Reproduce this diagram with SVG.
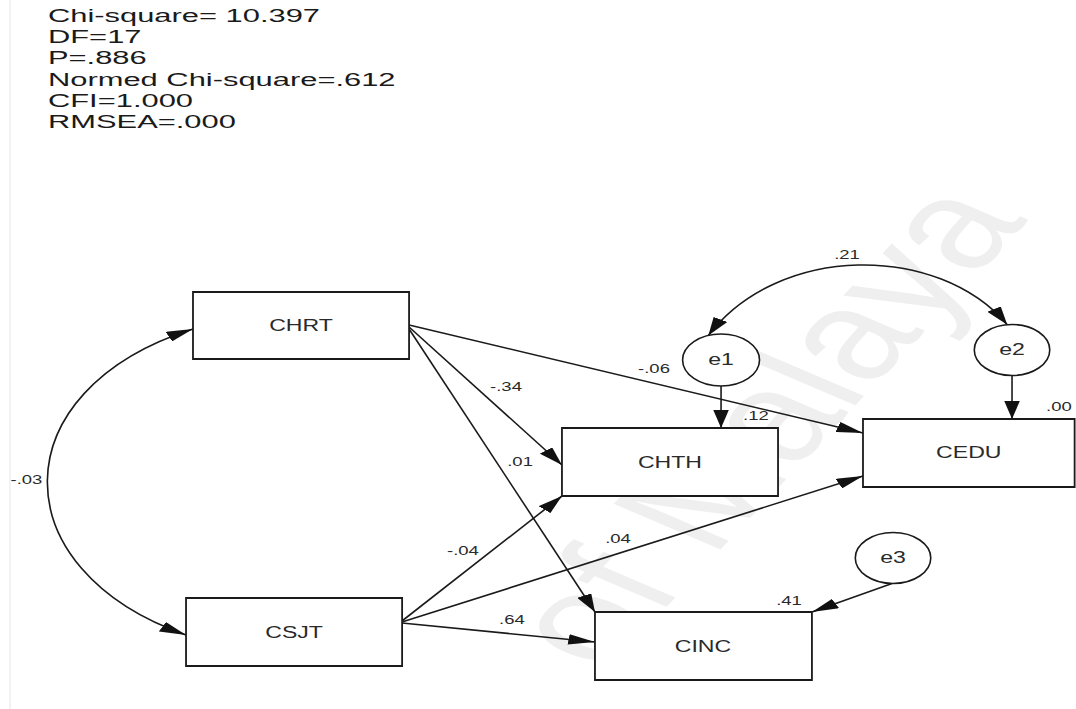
<svg xmlns="http://www.w3.org/2000/svg" width="1076" height="709" viewBox="0 0 1076 709">
<style>
 .box{fill:#fff;stroke:#1a1a1a;stroke-width:1.8;vector-effect:non-scaling-stroke}
 .err{fill:#fff;stroke:#1a1a1a;stroke-width:1.6;vector-effect:non-scaling-stroke}
 .edge{fill:none;stroke:#1a1a1a;stroke-width:1.6;vector-effect:non-scaling-stroke}
 .nl{font-family:"Liberation Sans",Arial,sans-serif;font-size:15.6px;fill:#2a2a2a;text-anchor:middle}
 .el{font-family:"Liberation Sans",Arial,sans-serif;font-size:12.5px;fill:#2a2a2a;text-anchor:middle}
 .st{font-family:"Liberation Sans",Arial,sans-serif;font-size:18.5px;fill:#1a1a1a}
 .wm{font-family:"Liberation Sans",Arial,sans-serif;font-size:124px;fill:#efefef;text-anchor:end}
</style>
<defs>
 <marker id="ah" viewBox="0 0 18 10.5" refX="18" refY="5.25" markerWidth="18" markerHeight="10.5" markerUnits="userSpaceOnUse" orient="auto-start-reverse">
  <path d="M0,0 L18,5.25 L0,10.5 Z" fill="#111"/>
 </marker>
</defs>
<rect width="1076" height="709" fill="#fff"/>
<line x1="10" y1="0" x2="10" y2="709" stroke="#eeeeee" stroke-width="1.5"/>
<g transform="scale(1.48,1)">
 <text class="wm" transform="translate(695,220) rotate(-57.7)">of Malaya</text>
</g>
<g id="stats" transform="scale(1.67,1)">
 <text class="st" x="28.7" y="22">Chi-square= 10.397</text>
 <text class="st" x="28.7" y="43">DF=17</text>
 <text class="st" x="28.7" y="64">P=.886</text>
 <text class="st" x="28.7" y="86">Normed Chi-square=.612</text>
 <text class="st" x="28.7" y="107">CFI=1.000</text>
 <text class="st" x="28.7" y="128">RMSEA=.000</text>
</g>
<g transform="scale(1.48,1)">
 <g id="connectors">
  <path class="edge" d="M276.4,327 L379.7,465" marker-end="url(#ah)"/>
  <path class="edge" d="M276.4,329 L402,612" marker-end="url(#ah)"/>
  <path class="edge" d="M276.4,325 L583.1,433" marker-end="url(#ah)"/>
  <path class="edge" d="M271.6,621 L379.7,496" marker-end="url(#ah)"/>
  <path class="edge" d="M271.6,622 L583.1,476" marker-end="url(#ah)"/>
  <path class="edge" d="M271.6,623 L402,642" marker-end="url(#ah)"/>
  <path class="edge" d="M487.2,386 L487.2,428" marker-end="url(#ah)"/>
  <path class="edge" d="M683.8,375.5 L683.8,419" marker-end="url(#ah)"/>
  <path class="edge" d="M602.7,583.5 L548.6,612" marker-end="url(#ah)"/>
  <path class="edge" d="M478.6,335.5 C526.3,243.3 633.8,243.3 680.6,324.7" marker-start="url(#ah)" marker-end="url(#ah)"/>
  <path class="edge" d="M130.4,329 C0,390 0,570 125.7,635" marker-start="url(#ah)" marker-end="url(#ah)"/>
 </g>

 <g id="edge-labels">
  <text class="el" x="341.9" y="391.5">-.34</text>
  <text class="el" x="351.4" y="466.5">.01</text>
  <text class="el" x="441.9" y="373.5">-.06</text>
  <text class="el" x="510.8" y="420.5">.12</text>
  <text class="el" x="715.5" y="411.5">.00</text>
  <text class="el" x="572.3" y="259.5">.21</text>
  <text class="el" x="312.8" y="555.5">-.04</text>
  <text class="el" x="417.6" y="543.5">.04</text>
  <text class="el" x="345.9" y="624.5">.64</text>
  <text class="el" x="533.1" y="605.5">.41</text>
  <text class="el" x="17.9" y="484.5">-.03</text>
 </g>

 <g id="CHRT"><rect class="box" x="130.4" y="292" width="146" height="67"/><text class="nl" x="203.4" y="331">CHRT</text></g>
 <g id="CHTH"><rect class="box" x="379.7" y="428" width="146" height="68"/><text class="nl" x="452.7" y="467.6">CHTH</text></g>
 <g id="CEDU"><rect class="box" x="583.1" y="419" width="143" height="68"/><text class="nl" x="654.6" y="458">CEDU</text></g>
 <g id="CSJT"><rect class="box" x="125.7" y="598" width="146" height="68"/><text class="nl" x="198.7" y="637.6">CSJT</text></g>
 <g id="CINC"><rect class="box" x="402" y="612" width="146.6" height="68"/><text class="nl" x="475" y="651.6">CINC</text></g>
 <g id="e1"><circle class="err" cx="487.2" cy="360" r="26"/><text class="nl" x="487.2" y="365.4">e1</text></g>
 <g id="e2"><circle class="err" cx="683.8" cy="350" r="25.5"/><text class="nl" x="683.8" y="355.4">e2</text></g>
 <g id="e3"><circle class="err" cx="603.4" cy="558" r="25.5"/><text class="nl" x="603.4" y="563.4">e3</text></g>
</g>
</svg>
